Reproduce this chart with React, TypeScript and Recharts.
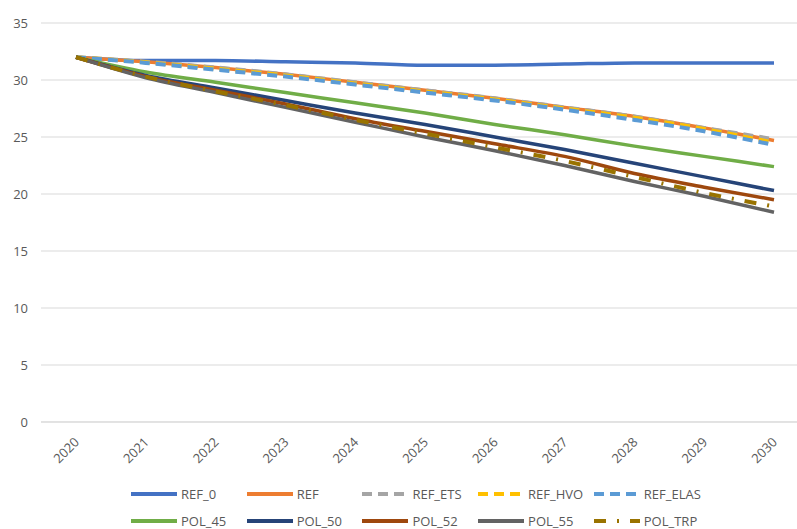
import React from "react"
import {
  LineChart,
  Line,
  XAxis,
  YAxis,
  CartesianGrid,
  Legend,
} from "recharts"

// Years on the category axis
const years = ["2020", "2021", "2022", "2023", "2024", "2025", "2026", "2027", "2028", "2029", "2030"]

// Scenario series, one value per year
const ref0 = [32.0, 31.7, 31.7, 31.6, 31.5, 31.3, 31.3, 31.4, 31.5, 31.5, 31.5]
const ref = [32.0, 31.6, 31.1, 30.5, 29.8, 29.1, 28.4, 27.6, 26.8, 25.8, 24.7]
const refEts = [32.0, 31.6, 31.1, 30.5, 29.8, 29.1, 28.4, 27.6, 26.8, 25.8, 24.8]
const refHvo = [32.0, 31.55, 31.0, 30.4, 29.7, 29.0, 28.3, 27.5, 26.7, 25.7, 24.5]
const refElas = [32.0, 31.5, 30.9, 30.3, 29.6, 28.9, 28.2, 27.4, 26.5, 25.5, 24.3]
const pol45 = [32.0, 30.7, 29.8, 28.9, 28.0, 27.1, 26.1, 25.2, 24.2, 23.3, 22.4]
const pol50 = [32.0, 30.4, 29.3, 28.2, 27.1, 26.1, 25.0, 23.9, 22.7, 21.5, 20.3]
const pol52 = [32.0, 30.3, 29.1, 27.9, 26.6, 25.5, 24.4, 23.3, 21.8, 20.6, 19.5]
const pol55 = [32.0, 30.2, 28.9, 27.6, 26.3, 25.0, 23.8, 22.5, 21.1, 19.8, 18.4]
const polTrp = [32.0, 30.3, 29.0, 27.8, 26.5, 25.3, 24.1, 22.9, 21.5, 20.1, 18.9]

const yTicks = [0, 5, 10, 15, 20, 25, 30, 35]

const series = [
  { key: "REF_0", values: ref0, color: "#4472C4", dash: undefined },
  { key: "REF", values: ref, color: "#ED7D31", dash: undefined },
  { key: "REF_ETS", values: refEts, color: "#A5A5A5", dash: "10 6" },
  { key: "REF_HVO", values: refHvo, color: "#FFC000", dash: "10 6" },
  { key: "REF_ELAS", values: refElas, color: "#5B9BD5", dash: "10 6" },
  { key: "POL_45", values: pol45, color: "#70AD47", dash: undefined },
  { key: "POL_50", values: pol50, color: "#264478", dash: undefined },
  { key: "POL_52", values: pol52, color: "#9E480E", dash: undefined },
  { key: "POL_55", values: pol55, color: "#636363", dash: undefined },
  { key: "POL_TRP", values: polTrp, color: "#997300", dash: "12 11 2 11" },
]

const data = years.map((year, i) => {
  const row: Record<string, string | number> = { year }
  series.forEach((s) => {
    row[s.key] = s.values[i]
  })
  return row
})

const FONT = "'Open Sans', sans-serif"
const TEXT_COLOR = "#595959"

const YearTick = (props: any) => {
  const { x, y, payload } = props
  const ax = x + 4
  const ay = y + 13
  return (
    <text
      x={ax}
      y={ay}
      textAnchor="end"
      transform={`rotate(-45, ${ax}, ${ay})`}
      fill={TEXT_COLOR}
      fontSize={13}
      fontFamily={FONT}
    >
      {payload.value}
    </text>
  )
}

// Two rows of five entries, laid out in fixed columns
const renderLegend = () => (
  <div style={{ position: "relative", width: 797, height: 49 }}>
    {series.map((s, i) => {
      const col = i % 5
      const row = Math.floor(i / 5)
      return (
        <div
          key={s.key}
          style={{
            position: "absolute",
            left: 131 + col * 115.7,
            top: 7 + row * 27,
            height: 14,
            display: "flex",
            alignItems: "center",
            whiteSpace: "nowrap",
          }}
        >
          <svg width={46} height={6}>
            <line
              x1={0}
              y1={3}
              x2={46}
              y2={3}
              stroke={s.color}
              strokeWidth={4}
              strokeDasharray={s.dash}
            />
          </svg>
          <span
            style={{
              marginLeft: 4,
              fontSize: 13,
              fontFamily: FONT,
              color: TEXT_COLOR,
              lineHeight: "14px",
            }}
          >
            {s.key}
          </span>
        </div>
      )
    })}
  </div>
)

export default function App() {
  return (
    <div
      style={{
        position: "absolute",
        left: 0,
        top: 0,
        width: 797,
        height: 529,
        overflow: "hidden",
        background: "#fff",
      }}
    >
      <LineChart
        width={797}
        height={529}
        data={data}
        margin={{ top: 23, right: 0, left: 0, bottom: 0 }}
      >
        <CartesianGrid vertical={false} stroke="#D9D9D9" strokeWidth={1} />
        <XAxis
          dataKey="year"
          height={107}
          padding={{ left: 35, right: 23 }}
          axisLine={{ stroke: "#D9D9D9" }}
          tickLine={false}
          interval={0}
          tick={<YearTick />}
        />
        <YAxis
          width={41}
          domain={[0, 35]}
          ticks={yTicks}
          axisLine={false}
          tickLine={false}
          tickMargin={7}
          tick={{ fill: TEXT_COLOR, fontSize: 13, fontFamily: FONT }}
        />
        <Legend
          layout="horizontal"
          verticalAlign="middle"
          align="center"
          content={renderLegend}
          wrapperStyle={{ left: 0, top: 480, width: 797, height: 49 }}
        />
        {series.map((s) => (
          <Line
            key={s.key}
            type="monotone"
            dataKey={s.key}
            stroke={s.color}
            strokeWidth={s.dash ? 4 : 3.5}
            strokeDasharray={s.dash}
            dot={false}
            activeDot={false}
            isAnimationActive={false}
          />
        ))}
      </LineChart>
    </div>
  )
}
